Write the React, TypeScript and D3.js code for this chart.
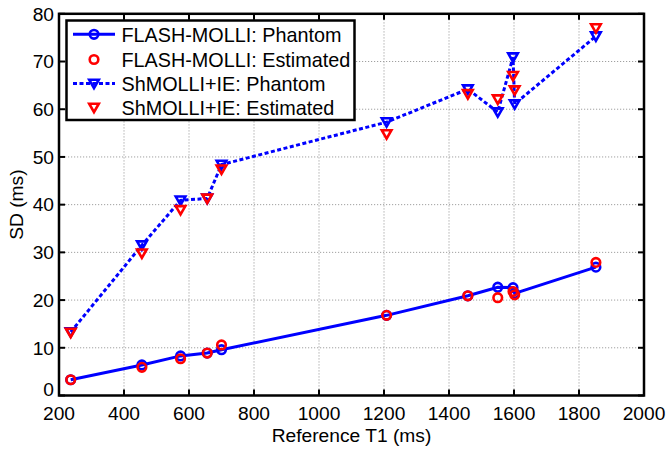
import React from "react";
import * as d3 from "d3";

const t1Ref = [236, 455, 574, 656, 700, 1208, 1458, 1550, 1597, 1602, 1852];
const flashPhantom = [3.3, 6.4, 8.3, 8.9, 9.6, 16.8, 20.9, 22.7, 22.6, 21.4, 26.9];
const flashEstimated = [3.3, 5.9, 7.7, 8.9, 10.6, 16.8, 20.9, 20.5, 21.8, 21.1, 27.9];
const shPhantom = [13.3, 31.5, 40.9, 41.3, 48.4, 57.3, 64.2, 59.4, 70.9, 61.1, 75.3];
const shEstimated = [13.2, 29.8, 38.9, 41.3, 47.4, 54.8, 63.2, 62.1, 67.0, 64.0, 77.0];

const xTicks = [200, 400, 600, 800, 1000, 1200, 1400, 1600, 1800, 2000];
const yTicks = [0, 10, 20, 30, 40, 50, 60, 70, 80];

const legendLabels = [
  "FLASH-MOLLI: Phantom",
  "FLASH-MOLLI: Estimated",
  "ShMOLLI+IE: Phantom",
  "ShMOLLI+IE: Estimated",
];

const BLUE = "#0000ff";
const RED = "#ff0000";
const FONT = "'Liberation Sans', Arial, sans-serif";
const FS = 19.2;
const LFS = 19.8;

function tri(cx: number, cy: number) {
  return `M${cx - 4.8},${cy - 3.8}L${cx + 4.8},${cy - 3.8}L${cx},${cy + 4.6}Z`;
}

export default function App() {
  const W = 671, H = 452;
  const x = d3.scaleLinear().domain([200, 2000]).range([59, 644]);
  const y = d3.scaleLinear().domain([0, 80]).range([395.5, 13.8]);
  const line = d3.line<number>().x((_, i) => x(t1Ref[i])).y((d) => y(d));
  const x0 = x.range()[0], x1 = x.range()[1];
  const y0 = y.range()[0], y1 = y.range()[1];
  const tk = 6;

  const legX = 66.5, legY = 20.5, legW = 288, legH = 99.5;
  const rowY = [34.3, 59.5, 83.5, 107.5];

  return (
    <svg width={W} height={H} style={{ position: "absolute", left: 0, top: 0, background: "#fff" }} fontFamily={FONT}>
      <rect x={0} y={0} width={W} height={H} fill="#fff" />
      {/* grid */}
      {xTicks.slice(1, -1).map((t) => (
        <line key={"gx" + t} x1={x(t)} x2={x(t)} y1={y0} y2={y1} stroke="#a0a0a0" strokeWidth={1} strokeDasharray="1.2,1.8" />
      ))}
      {yTicks.slice(1, -1).map((t) => (
        <line key={"gy" + t} x1={x0} x2={x1} y1={y(t)} y2={y(t)} stroke="#a0a0a0" strokeWidth={1} strokeDasharray="1.2,1.8" />
      ))}
      {/* ticks */}
      {xTicks.map((t) => (
        <g key={"tx" + t}>
          <line x1={x(t)} x2={x(t)} y1={y0} y2={y0 - tk} stroke="#000" strokeWidth={2} />
          <line x1={x(t)} x2={x(t)} y1={y1} y2={y1 + tk} stroke="#000" strokeWidth={2} />
          <text x={x(t)} y={420} textAnchor="middle" fontSize={FS} fill="#000">{t}</text>
        </g>
      ))}
      {yTicks.map((t) => (
        <g key={"ty" + t}>
          <line x1={x0} x2={x0 + tk} y1={y(t)} y2={y(t)} stroke="#000" strokeWidth={2} />
          <line x1={x1} x2={x1 - tk} y1={y(t)} y2={y(t)} stroke="#000" strokeWidth={2} />
          <text x={54} y={y(t) + (t === 0 ? 0 : 6.8)} textAnchor="end" fontSize={FS} fill="#000">{t}</text>
        </g>
      ))}
      {/* series */}
      <path d={line(flashPhantom) || ""} fill="none" stroke={BLUE} strokeWidth={3} />
      {flashPhantom.map((v, i) => (
        <circle key={"fp" + i} cx={x(t1Ref[i])} cy={y(v)} r={4.3} fill="none" stroke={BLUE} strokeWidth={2.6} />
      ))}
      {flashEstimated.map((v, i) => (
        <circle key={"fe" + i} cx={x(t1Ref[i])} cy={y(v)} r={4.3} fill="none" stroke={RED} strokeWidth={2.6} />
      ))}
      <path d={line(shPhantom) || ""} fill="none" stroke={BLUE} strokeWidth={3} strokeDasharray="4,2.5" />
      {shPhantom.map((v, i) => (
        <path key={"sp" + i} d={tri(x(t1Ref[i]), y(v))} fill="none" stroke={BLUE} strokeWidth={2.6} />
      ))}
      {shEstimated.map((v, i) => (
        <path key={"se" + i} d={tri(x(t1Ref[i]), y(v))} fill="none" stroke={RED} strokeWidth={2.6} />
      ))}
      {/* frame */}
      <rect x={x0} y={y1} width={x1 - x0} height={y0 - y1} fill="none" stroke="#000" strokeWidth={2.5} />
      {/* axis titles */}
      <text x={(x0 + x1) / 2} y={442} textAnchor="middle" fontSize={FS} fill="#000">Reference T1 (ms)</text>
      <text transform={`translate(23,${(y0 + y1) / 2}) rotate(-90)`} textAnchor="middle" fontSize={FS} fill="#000">SD (ms)</text>
      {/* legend */}
      <rect x={legX} y={legY} width={legW} height={legH} fill="#fff" stroke="#000" strokeWidth={2.5} />
      <line x1={73} x2={115} y1={rowY[0]} y2={rowY[0]} stroke={BLUE} strokeWidth={3} />
      <circle cx={94} cy={rowY[0]} r={4.3} fill="none" stroke={BLUE} strokeWidth={2.6} />
      <circle cx={94} cy={rowY[1]} r={4.3} fill="none" stroke={RED} strokeWidth={2.6} />
      <line x1={73} x2={115} y1={rowY[2]} y2={rowY[2]} stroke={BLUE} strokeWidth={3} strokeDasharray="4,2.5" />
      <path d={tri(94, rowY[2])} fill="none" stroke={BLUE} strokeWidth={2.6} />
      <path d={tri(94, rowY[3])} fill="none" stroke={RED} strokeWidth={2.6} />
      {legendLabels.map((s, i) => (
        <text key={s} x={121.5} y={rowY[i] + 7.2} fontSize={LFS} fill="#000">{s}</text>
      ))}
    </svg>
  );
}
